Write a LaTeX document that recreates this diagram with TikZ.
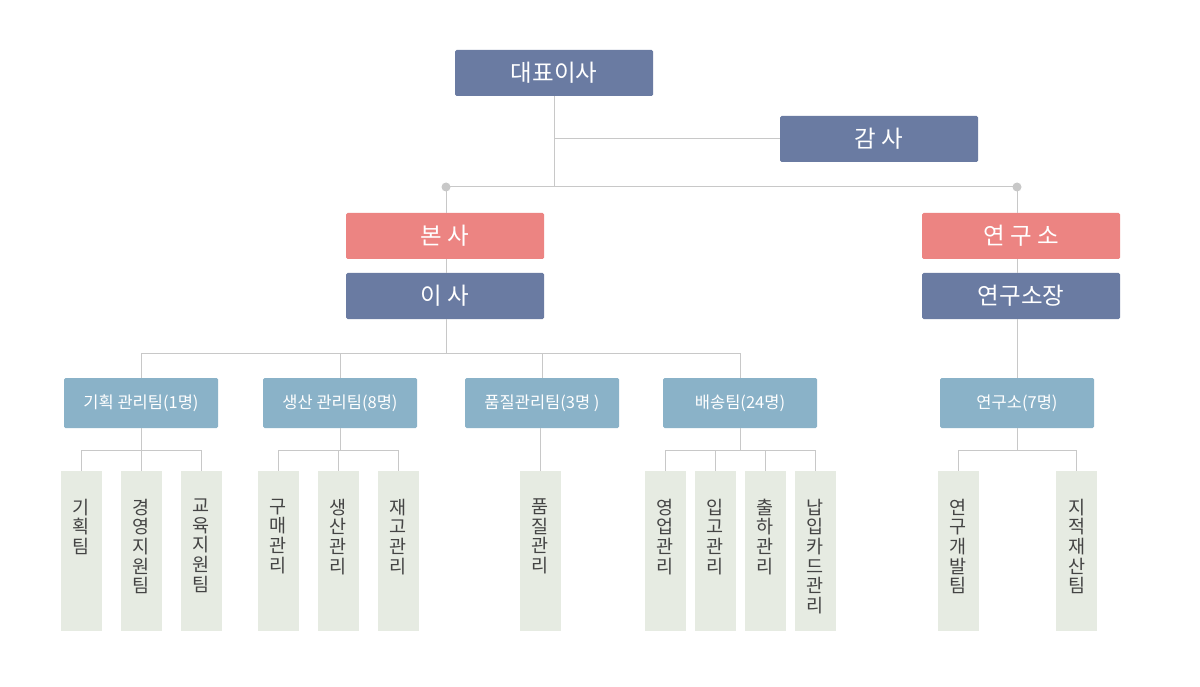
\documentclass[tikz,border=0pt]{standalone}
\usepackage{fontspec}
\setmainfont{Noto Sans CJK KR}
\definecolor{navy}{HTML}{6A7BA2}
\definecolor{pinkc}{HTML}{EC8482}
\definecolor{teamc}{HTML}{8AB2C8}
\definecolor{leafc}{HTML}{E6EBE2}
\definecolor{linec}{HTML}{C8C8C8}
\definecolor{leaftext}{HTML}{444444}
\begin{document}
\begin{tikzpicture}[x=1pt,y=-1pt,
  big/.style={rectangle, rounded corners=1.5pt, minimum width=198pt, minimum height=46pt, inner sep=0pt, text=white, font=\fontsize{23.5}{26}\selectfont},
  bignavy/.style={big, fill=navy},
  bigpink/.style={big, fill=pinkc},
  team/.style={rectangle, rounded corners=1.5pt, minimum width=154pt, minimum height=50pt, inner sep=0pt, fill=teamc, text=white, font=\fontsize{16.5}{18}\selectfont},
  leaf/.style={rectangle, fill=leafc, minimum width=41pt, minimum height=160pt, inner sep=0pt},
  leaftxt/.style={anchor=north, align=center, text=leaftext, font=\fontsize{18.5}{19.6}\selectfont, inner sep=0pt},
  conn/.style={draw=linec, line width=1pt},
  dotc/.style={circle, fill=linec, minimum size=9pt, inner sep=0pt}
]
\fill[white] (0,0) rectangle (1200,687);
\useasboundingbox (0,0) rectangle (1200,687);

% top level
\node[bignavy] (ceo) at (554,73) {대표이사};
\node[bignavy] (audit) at (879,139) {감 사};
\node[bigpink] (hq) at (445,236) {본 사};
\node[bignavy] (dir) at (445,296) {이 사};
\node[bigpink] (lab) at (1021,236) {연 구 소};
\node[bignavy] (labhead) at (1021,296) {연구소장};

% teams
\node[team] (t1) at (141,403) {기획 관리팀(1명)};
\node[team] (t2) at (340,403) {생산 관리팀(8명)};
\node[team] (t3) at (542,403) {품질관리팀(3명 )};
\node[team] (t4) at (740,403) {배송팀(24명)};
\node[team] (t5) at (1017,403) {연구소(7명)};

% leaves
\foreach \n/\x/\t in {l1/81.5/기\\획\\팀, l2/141.5/경\\영\\지\\원\\팀, l3/201.5/교\\육\\지\\원\\팀,
  l4/278.5/구\\매\\관\\리, l5/338.5/생\\산\\관\\리, l6/398.5/재\\고\\관\\리,
  l7/540.5/품\\질\\관\\리,
  l8/665.5/영\\업\\관\\리, l9/715.5/입\\고\\관\\리, l10/765.5/출\\하\\관\\리, l11/815.5/납\\입\\카\\드\\관\\리,
  l12/958.5/연\\구\\개\\발\\팀, l13/1076.5/지\\적\\재\\산\\팀}{
  \node[leaf] (\n) at (\x,551) {};
  \node[leaftxt] (\n txt) at ([yshift=-28pt]\n.north) {\t};
}

% connectors top
\coordinate (dl) at (446,187);
\coordinate (dr) at (1017,187);
\draw[conn] (ceo.south) -- (ceo.south |- dl);
\draw[conn] (ceo.south |- audit.west) -- (audit.west);
\draw[conn] (dl) -- (dr);
\draw[conn] (dl) -- (dl |- hq.north);
\draw[conn] (dr) -- (dr |- lab.north);
\draw[conn] (dl |- hq.south) -- (dl |- dir.north);
\draw[conn] (dr |- lab.south) -- (dr |- labhead.north);
\node[dotc] (d1) at (dl) {};
\node[dotc] (d2) at (dr) {};

% director to teams
\coordinate (bus) at (446,353);
\draw[conn] (dl |- dir.south) -- (bus);
\draw[conn] (t1.north |- bus) -- (t4.north |- bus);
\foreach \t in {t1,t2,t3,t4}{ \draw[conn] (\t.north |- bus) -- (\t.north); }
\draw[conn] (t5.north |- labhead.south) -- (t5.north);

% teams to leaves
\coordinate (sub) at (0,450);
\draw[conn] (t1.south) -- (t1.south |- sub);
\draw[conn] (l1.north |- sub) -- (l3.north |- sub);
\foreach \l in {l1,l2,l3}{ \draw[conn] (\l.north |- sub) -- (\l.north); }
\draw[conn] (t2.south) -- (t2.south |- sub);
\draw[conn] (l4.north |- sub) -- (l6.north |- sub);
\foreach \l in {l4,l5,l6}{ \draw[conn] (\l.north |- sub) -- (\l.north); }
\draw[conn] (l7.north |- t3.south) -- (l7.north);
\draw[conn] (t4.south) -- (t4.south |- sub);
\draw[conn] (l8.north |- sub) -- (l11.north |- sub);
\foreach \l in {l8,l9,l10,l11}{ \draw[conn] (\l.north |- sub) -- (\l.north); }
\draw[conn] (t5.south) -- (t5.south |- sub);
\draw[conn] (l12.north |- sub) -- (l13.north |- sub);
\foreach \l in {l12,l13}{ \draw[conn] (\l.north |- sub) -- (\l.north); }
\end{tikzpicture}
\end{document}
